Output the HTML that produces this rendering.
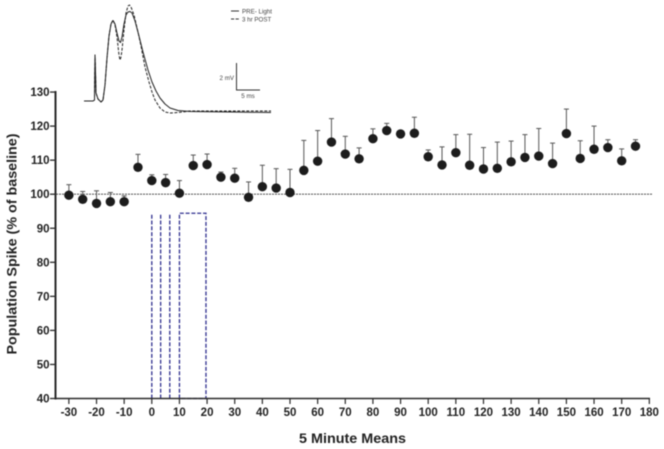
<!DOCTYPE html>
<html lang="en">
<head>
<meta charset="utf-8">
<title>Population Spike Chart</title>
<style>
html,body{margin:0;padding:0;background:#fff;width:664px;height:449px;overflow:hidden}
svg{display:block;filter:blur(0.4px)}
text{font-family:"Liberation Sans",sans-serif;fill:#222}
.tick{font-size:11.5px;font-weight:bold}
.title{font-size:14px;font-weight:bold}
.small{font-size:6.2px;fill:#444}
</style>
</head>
<body>
<svg id="chart" xmlns="http://www.w3.org/2000/svg" width="664" height="449" viewBox="0 0 664 449">
<g id="inset"></g>
<g id="legend">
<line x1="231" x2="239" y1="11" y2="11" stroke="#333" stroke-width="1"/>
<text class="small" x="242" y="13.5">PRE- Light</text>
<line x1="231" x2="239" y1="19" y2="19" stroke="#333" stroke-width="1" stroke-dasharray="3.2 1.4"/>
<text class="small" x="242" y="21.5">3 hr POST</text>
</g>
<g id="scalebar">
<path d="M236.5 63V90H260" fill="none" stroke="#333" stroke-width="1"/>
<text class="small" x="234" y="80" text-anchor="end">2 mV</text>
<text class="small" x="248" y="98" text-anchor="middle">5 ms</text>
</g>
<g id="stim"></g>
<g id="baseline-group"></g>
<g id="series"></g>
<g id="axes"></g>
<text class="title" transform="translate(16.5,244) rotate(-90)" text-anchor="middle" textLength="221" lengthAdjust="spacingAndGlyphs">Population Spike (% of baseline)</text>
<text class="title" x="352.5" y="443" text-anchor="middle" textLength="107" lengthAdjust="spacingAndGlyphs">5 Minute Means</text>
</svg>
<script>
const minutes = [-30,-25,-20,-15,-10,-5,0,5,10,15,20,25,30,35,40,45,50,55,60,65,70,75,80,85,90,95,100,105,110,115,120,125,130,135,140,145,150,155,160,165,170,175];
const means = [99.7,98.5,97.3,97.8,97.8,107.9,104,103.4,100.3,108.4,108.7,105,104.7,99.1,102.2,101.8,100.5,107,109.7,115.3,111.8,110.4,116.3,118.7,117.7,117.9,111,108.6,112.2,108.5,107.4,107.6,109.5,110.8,111.2,109,117.8,110.5,113.2,113.7,109.8,114.1];
const errorTops = [102.8,100.8,101,100.5,99.5,111.7,105.7,105.8,104,111.5,111.8,106.5,107.6,103.6,108.5,107.5,107.3,115.8,118.7,122.2,117,113.6,119.2,120.8,118.6,122.6,113,113.9,117.5,117.6,113.7,115.3,115.6,117.5,119.3,115,125,115.7,120,116,113.3,116];
const xTicks = [-30,-20,-10,0,10,20,30,40,50,60,70,80,90,100,110,120,130,140,150,160,170,180];
const yTicks = [40,50,60,70,80,90,100,110,120,130];
const baselineValue = 100;
const stimulusStarts = [0,3.2,6.5,10];
const stimulusEnds = [0,3.2,6.5,19.6];
const stimulusTop = 94.4;
const preTimes = [0,9,10.5,11,11.5,12,14,17,19,21,23,25,27,29,31,33,35,36.5,38,40,42,44,46,48,51,55,59,64,68,72,76,81,86,94,106,146,187];
const preTrace = [101,101,100,55,72,93,99,102,100,85,58,36,24,20.5,24,33,41,42.5,37,24,15,12,11.5,13,21,36,52,70,82,91,98,104,108,110.5,111.5,112,112.5];
const postTimes = [0,9,10.5,11,11.5,12,14,17,19,21,23,25,27,29,31,33,35,36,37,38,40,42,44,45.5,47,50,54,57,61,65,68,71,76,81,86,94,106,187];
const postTrace = [101,101,100,55,72,93,99,102,100,85,58,36,24,20,25,37,55,60,57,50,30,13,6,5,7,15,32,46,67,82,92,100,108,112,113,112.5,111,111];

const NS = 'http://www.w3.org/2000/svg';
function make(parent, tag, attrs){
  const el = document.createElementNS(NS, tag);
  for (const k in attrs) el.setAttribute(k, attrs[k]);
  parent.appendChild(el);
  return el;
}
function xScale(v){ return 151.8 + v * 2.764; }
function yScale(v){ return 398.5 - (v - 40) * 3.405; }
function insetX(t){ return 84 + t; }
function insetY(v){ return v; }

const inset = document.getElementById('inset');
function tracePath(times, values){
  return values.map((v, i) => (i ? 'L' : 'M') + insetX(times[i]) + ' ' + insetY(v)).join('');
}
const prePath = make(inset, 'path', {d: tracePath(preTimes, preTrace), fill:'none', stroke:'#222', 'stroke-width':1, 'stroke-linejoin':'round'});


const postPath = make(inset, 'path', {d: tracePath(postTimes, postTrace), fill:'none', stroke:'#222', 'stroke-width':1, 'stroke-dasharray':'3 1.5', 'stroke-linejoin':'round'});



const stim = document.getElementById('stim');
stimulusStarts.forEach((s, i) => {
  const x0 = xScale(s), x1 = xScale(stimulusEnds[i]), top = yScale(stimulusTop), bottom = yScale(40);
  const d = x0 === x1 ? `M${x0} ${bottom}V${top}` : `M${x0} ${bottom}V${top}H${x1}V${bottom}H${x0}`;
  const bar = make(stim, 'path', {d: d, fill:'none', stroke:'#2e2e8e', 'stroke-width':1.3, 'stroke-dasharray':'4 1.8'});
  
  
});

const baselineGroup = document.getElementById('baseline-group');
const baseLine = make(baselineGroup, 'line', {x1:56, x2:652, y1:yScale(baselineValue), y2:yScale(baselineValue), stroke:'#333', 'stroke-width':0.9, 'stroke-dasharray':'2 1'});



const series = document.getElementById('series');
minutes.forEach((m, i) => {
  const x = xScale(m), y = yScale(means[i]), t = yScale(errorTops[i]);
  const stem = make(series, 'line', {x1:x, x2:x, y1:y, y2:t, stroke:'#555', 'stroke-width':1});
  
  
  const cap = make(series, 'line', {x1:x-2.5, x2:x+2.5, y1:t, y2:t, stroke:'#555', 'stroke-width':1});
  
  
  const dot = make(series, 'circle', {cx:x, cy:y, r:4.7, fill:'#1c1c1c'});
  
  
});

const axes = document.getElementById('axes');
const yAxis = make(axes, 'line', {x1:55.5, x2:55.5, y1:yScale(130)-1, y2:yScale(40)+1, stroke:'#2a2a2a', 'stroke-width':2});


const xAxis = make(axes, 'line', {x1:54.5, x2:xScale(180)+0.7, y1:yScale(40), y2:yScale(40), stroke:'#2a2a2a', 'stroke-width':1.6});


yTicks.forEach(v => {
  const y = yScale(v);
  const tick = make(axes, 'line', {x1:50, x2:55, y1:y, y2:y, stroke:'#2a2a2a', 'stroke-width':1.3});
  
  
  const label = make(axes, 'text', {x:49.5, y:y+4, 'text-anchor':'end', class:'tick'});
  
  
  label.textContent = v;
});
xTicks.forEach(v => {
  const x = xScale(v);
  const tick = make(axes, 'line', {x1:x, x2:x, y1:yScale(40), y2:yScale(40)+5.5, stroke:'#2a2a2a', 'stroke-width':1.2});
  
  
  const label = make(axes, 'text', {x:x, y:416, 'text-anchor':'middle', class:'tick'});
  
  
  label.textContent = v;
});
</script>
</body>
</html>
